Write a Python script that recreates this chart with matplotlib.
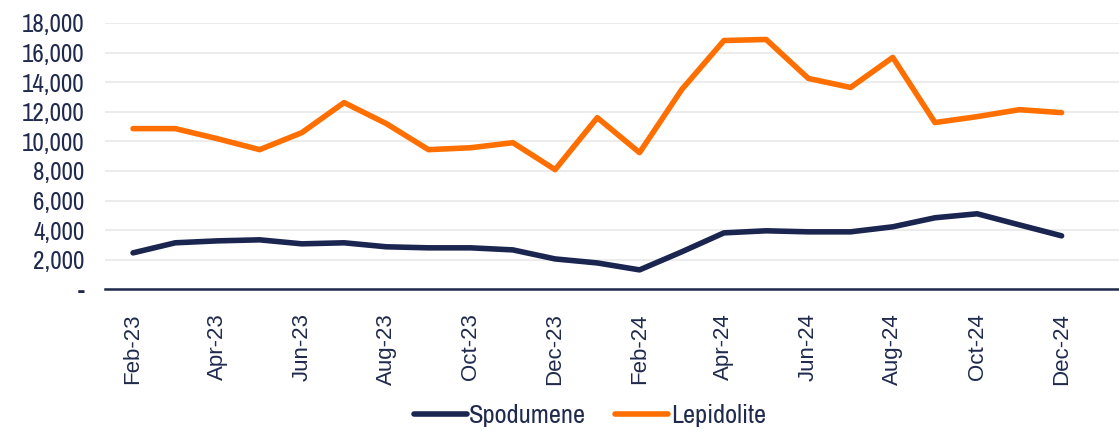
import numpy as np
import matplotlib.pyplot as plt
from matplotlib import font_manager
from matplotlib.ticker import FuncFormatter

months = ["Feb-23", "Mar-23", "Apr-23", "May-23", "Jun-23", "Jul-23", "Aug-23",
          "Sep-23", "Oct-23", "Nov-23", "Dec-23", "Jan-24", "Feb-24", "Mar-24",
          "Apr-24", "May-24", "Jun-24", "Jul-24", "Aug-24", "Sep-24", "Oct-24",
          "Nov-24", "Dec-24"]

spodumene = [2470, 3150, 3280, 3350, 3080, 3150, 2880, 2810, 2810, 2670, 2060,
             1790, 1320, 2540, 3820, 3960, 3890, 3890, 4230, 4840, 5110, 4360, 3620]

lepidolite = [10860, 10860, 10180, 9440, 10590, 12620, 11200, 9440, 9570, 9910,
              8090, 11600, 9240, 13500, 16810, 16880, 14250, 13640, 15670, 11270,
              11670, 12140, 11940]

navy = "#1a2550"
orange = "#ff6f00"
text_col = "#1f2a4d"

# pick a condensed face if one is installed, otherwise Lato
names = sorted({f.name for f in font_manager.fontManager.ttflist})
cond = [n for n in names if "Narrow" in n or "Condensed" in n]
narrow = [cond[0] if cond else "Lato", "DejaVu Sans"]

fig = plt.figure(figsize=(11.19, 4.32), dpi=100)
ax = fig.add_axes([0.094, 0.33, 0.906, 0.617])

x = np.arange(len(months))
ax.plot(x, spodumene, color=navy, lw=4, solid_capstyle="round", label="Spodumene")
ax.plot(x, lepidolite, color=orange, lw=4, solid_capstyle="round", label="Lepidolite")

ax.set_ylim(0, 18000)
ax.set_yticks(np.arange(0, 18001, 2000))
ax.yaxis.set_major_formatter(FuncFormatter(lambda v, p: "-" if v == 0 else f"{int(v):,}"))
ax.set_xlim(-0.66, 23.36)
ax.set_xticks(x[::2])
ax.set_xticklabels(months[::2], rotation=90, fontsize=16, color=text_col,
                   family=["Liberation Sans", "DejaVu Sans"])

fs_y = 18 if cond else 15
for lab in ax.get_yticklabels():
    lab.set_family(narrow)
    lab.set_fontsize(fs_y)
    lab.set_color(text_col)

ax.grid(axis="y", color="#ececec", lw=1.5)
ax.set_axisbelow(True)
for s in ["top", "right", "left"]:
    ax.spines[s].set_visible(False)
ax.spines["bottom"].set_color("#1f2a4d")
ax.spines["bottom"].set_linewidth(1.8)
ax.tick_params(axis="both", length=0)
ax.tick_params(axis="y", pad=15)
ax.tick_params(axis="x", pad=17)

leg = fig.legend(loc="center", bbox_to_anchor=(0.527, 0.038), ncol=2,
                 frameon=False, handlelength=2.0, columnspacing=1.1,
                 handletextpad=0.1, borderpad=0.1, prop={"family": narrow, "size": 19})
for t in leg.get_texts():
    t.set_color(text_col)

fig.savefig("out.png", dpi=100)
